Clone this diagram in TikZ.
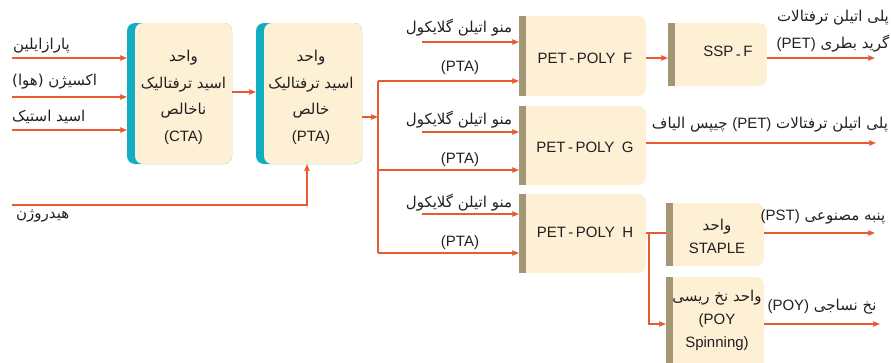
\documentclass[tikz,border=0pt]{standalone}
\usepackage{fontspec}
\setmainfont{Liberation Sans}
\newfontfamily\fa[Script=Arabic]{DejaVu Sans}
\TeXXeTstate=1
\usetikzlibrary{arrows.meta}
\pgfdeclarelayer{bg}
\pgfsetlayers{bg,main}
\definecolor{cream}{HTML}{FEF0D5}
\definecolor{tealc}{HTML}{12ADC1}
\definecolor{olivec}{HTML}{A39675}
\definecolor{arr}{HTML}{E85A32}
\definecolor{ink}{HTML}{231F20}
\newcommand\farsi[1]{{\fa\beginR #1\endR}}
\newcommand\ltr[1]{\beginL{\normalfont #1}\endL{}}
\tikzset{
  conn/.style={draw=arr, line width=1.4pt},
  arw/.style={conn, -{Stealth[length=7pt,width=5.5pt,inset=1pt]}},
  boxn/.style={inner sep=0, outer sep=0, minimum width=#1},
  boxt/.style={inner sep=0, text=ink, align=center, font=\fontsize{15}{26.5}\selectfont},
  lbl/.style={inner sep=0, text=ink, font=\fontsize{15}{27}\selectfont},
  lbll/.style={inner sep=0, text=ink, font=\fontsize{15}{18}\selectfont},
}
\begin{document}
\begin{tikzpicture}[x=1pt,y=-1pt]
\useasboundingbox (0,0) rectangle (891,362);
% boxes
\node[boxn=105, minimum height=141] (CTA) at (179.5,93.5) {};
\node[boxn=106, minimum height=141] (PTA) at (309,93.5) {};
\node[boxn=127, minimum height=80] (F) at (582.5,56) {};
\node[boxn=127, minimum height=79] (G) at (582.5,145.5) {};
\node[boxn=127, minimum height=79] (H) at (582.5,233.5) {};
\node[boxn=99, minimum height=63] (SSP) at (717.5,54.5) {};
\node[boxn=98, minimum height=63] (STA) at (715,234.5) {};
\node[boxn=98, minimum height=94] (POY) at (715,324) {};
\begin{pgfonlayer}{bg}
\foreach \n in {CTA,PTA}{
  \fill[tealc, rounded corners=8] (\n.north west) rectangle (\n.south east);
  \fill[cream, rounded corners=8] ([xshift=8]\n.north west) rectangle (\n.south east);
}
\foreach \n in {F,G,H,SSP,STA,POY}{
  \fill[cream, rounded corners=8] (\n.north west) rectangle (\n.south east);
  \fill[cream] (\n.north west) rectangle ([xshift=20]\n.south west);
  \fill[olivec] (\n.north west) rectangle ([xshift=7]\n.south west);
}
\end{pgfonlayer}
% box texts
\node[boxt] (CTAt) at (183.5,97.5) {\farsi{واحد}\\\farsi{اسید ترفتالیک}\\\farsi{ناخالص}\\(CTA)};
\node[boxt] (PTAt) at (311,97.5) {\farsi{واحد}\\\farsi{اسید ترفتالیک}\\\farsi{خالص}\\(PTA)};
\node[boxt] (Ft) at (585,58) {PET\,-\,POLY\enspace F};
\node[boxt] (Gt) at (585,147) {PET\,-\,POLY\enspace G};
\node[boxt] (Ht) at (585,232) {PET\,-\,POLY\enspace H};
\node[boxt] (SSPt) at (728,53) {SSP\,\raisebox{-3.5pt}{-}\,F};
\node[boxt, font=\fontsize{15}{23}\selectfont] (STAt) at (717,236.5) {\farsi{واحد}\\STAPLE};
\node[boxt, font=\fontsize{15}{23}\selectfont] (POYt) at (717,320) {\farsi{واحد نخ ریسی}\\(POY\\Spinning)};
% inputs
\coordinate (i1) at (12,58);
\coordinate (i2) at (12,97);
\coordinate (i3) at (12,130);
\draw[arw] (i1) -- (i1 -| CTA.west);
\draw[arw] (i2) -- (i2 -| CTA.west);
\draw[arw] (i3) -- (i3 -| CTA.west);
\node[lbl, anchor=west] (l1) at (13,46) {\farsi{پارازایلین}};
\node[lbl, anchor=west] (l2) at (12,82) {\farsi{اکسیژن (هوا)}};
\node[lbl, anchor=west] (l3) at (12,117) {\farsi{اسید استیک}};
% hydrogen
\coordinate (h0) at (12,205);
\coordinate (h1) at (307,164);
\draw[arw] (h0) -| (h1);
\node[lbl, anchor=west] (lh) at (16,216) {\farsi{هیدروژن}};
% CTA -> PTA
\draw[arw] ([yshift=1.5]CTA.east) -- ([yshift=1.5]PTA.west);
% PTA trunk
\coordinate (tr) at (378,117);
\coordinate (tF) at (378,81);
\coordinate (tG) at (378,170);
\coordinate (tH) at (378,253);
\draw[arw] (PTA.east |- tr) -- (tr);
\draw[conn] (tF) -- (tH);
\draw[arw] (tF) -- (tF -| F.west);
\draw[arw] (tG) -- (tG -| G.west);
\draw[arw] (tH) -- (tH -| H.west);
% MEG
\coordinate (mF) at (422,42);
\coordinate (mG) at (422,132);
\coordinate (mH) at (422,214);
\draw[arw] (mF) -- (mF -| F.west);
\draw[arw] (mG) -- (mG -| G.west);
\draw[arw] (mH) -- (mH -| H.west);
\node[lbl] (lmF) at (459,28) {\farsi{منو اتیلن گلایکول}};
\node[lbl] (lmG) at (459,120) {\farsi{منو اتیلن گلایکول}};
\node[lbl] (lmH) at (459,203) {\farsi{منو اتیلن گلایکول}};
\node[lbll] (lpF) at (460,68) {(PTA)};
\node[lbll] (lpG) at (460,160) {(PTA)};
\node[lbll] (lpH) at (460,243) {(PTA)};
% F -> SSP
\coordinate (fs) at (646,58);
\draw[arw] (fs) -- (fs -| SSP.west);
\coordinate (so) at (875,58);
\draw[arw] (so -| SSP.east) -- (so);
\node[lbl, align=center] (lso) at (833,31.5) {\farsi{پلی اتیلن ترفتالات}\\\farsi{گرید بطری \ltr{(PET)}}};
% G out
\coordinate (go) at (876,143);
\draw[arw] (go -| G.east) -- (go);
\node[lbl] (lgo) at (770,125) {\farsi{پلی اتیلن ترفتالات \ltr{(PET)} چیپس الیاف}};
% H out
\coordinate (hj) at (649,233);
\draw[conn] (hj -| H.east) -- (hj -| STA.west);
\draw[arw] (hj) |- (POY.west);
\coordinate (sto) at (875,233);
\draw[arw] (sto -| STA.east) -- (sto);
\node[lbl] (lst) at (823,217) {\farsi{پنبه مصنوعی \ltr{(PST)}}};
\coordinate (po) at (880,324);
\draw[arw] (POY.east) -- (po);
\node[lbl] (lpo) at (822,307) {\farsi{نخ نساجی \ltr{(POY)}}};
\end{tikzpicture}
\end{document}
